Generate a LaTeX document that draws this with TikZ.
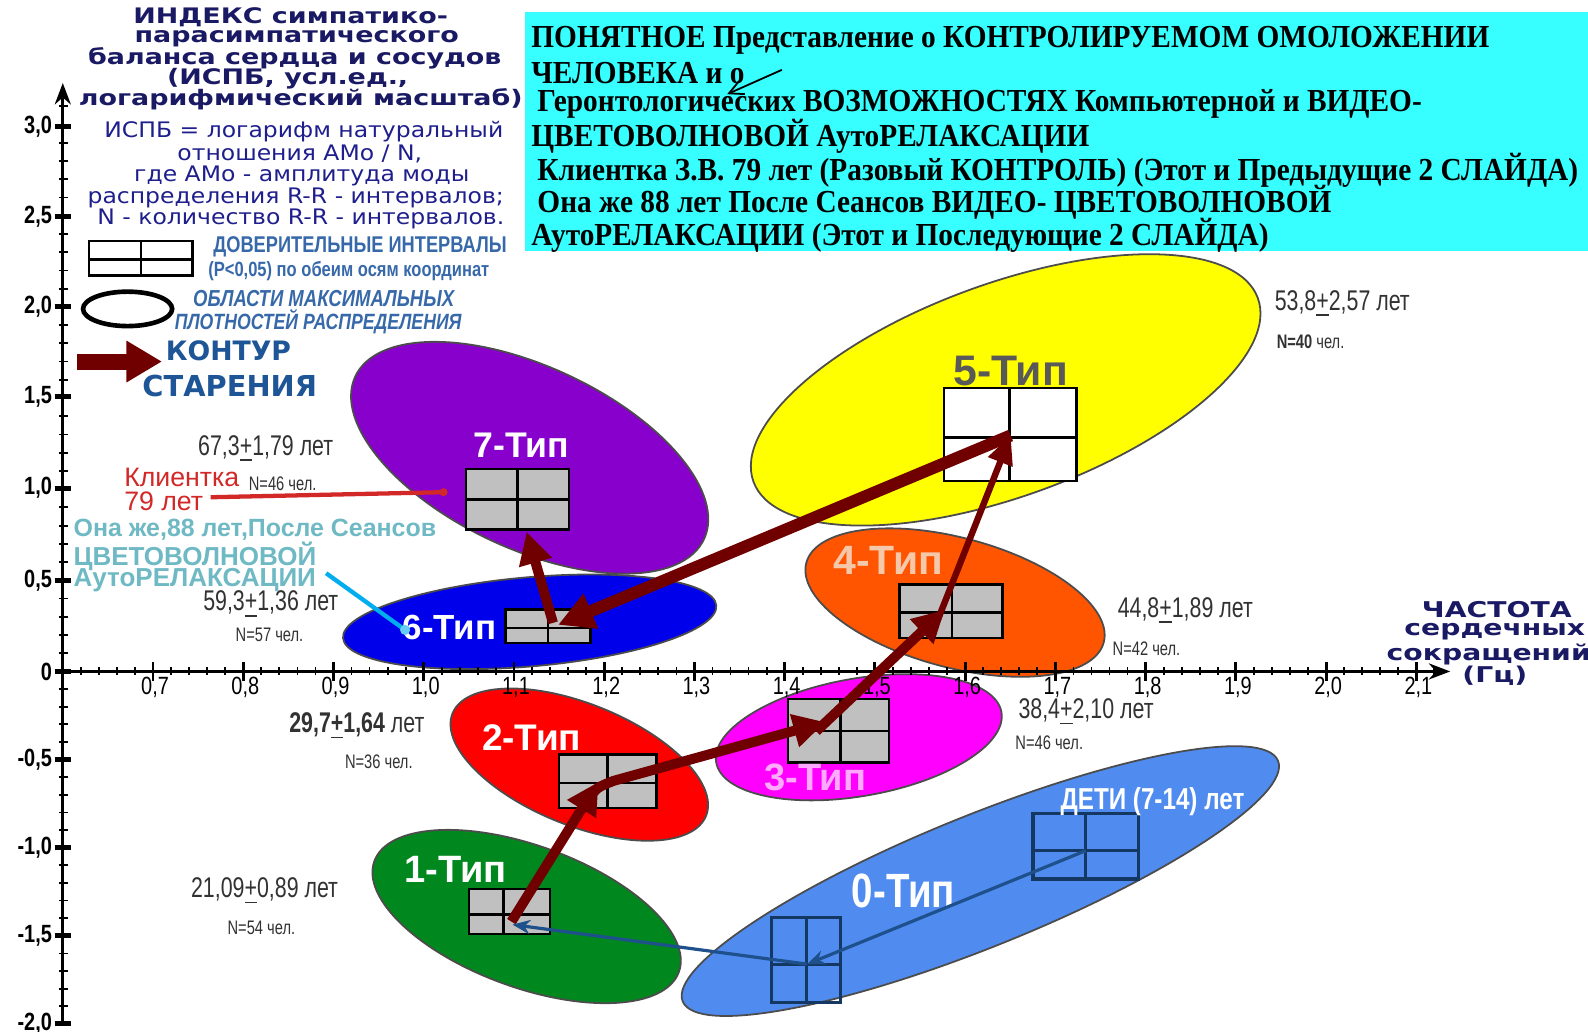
\documentclass[tikz,border=0pt]{standalone}
\usepackage{fontspec}
\usetikzlibrary{arrows.meta}
\setmainfont{Liberation Sans}
\newfontfamily\hdrfont[FakeStretch=1.26]{DejaVu Sans}
\newfontfamily\axfont[FakeStretch=1.3]{DejaVu Sans}
\newfontfamily\midfont[FakeStretch=1.1]{DejaVu Sans}
\newfontfamily\dvfont{DejaVu Sans}
\newfontfamily\narrowfont[FakeStretch=0.8]{Liberation Sans}
\newfontfamily\agefont[FakeStretch=0.75]{Liberation Sans}
\newfontfamily\serfont[FakeStretch=0.915]{Liberation Serif}
\newcommand\fs[1]{\fontsize{#1}{#1}\selectfont}
\definecolor{hdrnavy}{RGB}{25,25,100}
\definecolor{txtnavy}{RGB}{30,30,140}
\definecolor{arrowred}{RGB}{112,0,0}
\definecolor{ylw}{RGB}{255,255,0}
\definecolor{orng}{RGB}{255,85,0}
\definecolor{mgnt}{RGB}{255,0,255}
\definecolor{redf}{RGB}{255,0,0}
\definecolor{grn}{RGB}{0,135,30}
\definecolor{lblue}{RGB}{80,140,240}
\definecolor{dblue}{RGB}{0,0,235}
\definecolor{purp}{RGB}{136,0,204}
\definecolor{cyanbox}{RGB}{55,255,255}
\definecolor{boxgray}{RGB}{192,192,192}
\definecolor{agegray}{RGB}{50,50,50}
\definecolor{steel}{RGB}{55,105,170}
\definecolor{kontur}{RGB}{30,85,150}
\definecolor{clientred}{RGB}{210,40,40}
\definecolor{tealtxt}{RGB}{110,185,195}
\definecolor{lineblue}{RGB}{30,80,140}
\definecolor{peach}{RGB}{245,200,170}
\definecolor{pinkl}{RGB}{255,170,255}
\begin{document}
\begin{tikzpicture}[x=0.01cm,y=-0.01cm,
  every node/.style={inner sep=0pt},
  ell/.style={draw=black!70,line width=0.5pt},
  cib/.style={draw=black,line width=0.7pt},
  cibn/.style={draw=lineblue!70!black,line width=0.9pt},
  agearrow/.style={draw=arrowred,line width=2.8pt,-{Triangle[length=9pt,width=9pt]}},
  bluearrow/.style={draw=lineblue,line width=0.9pt,-{Stealth[length=5pt,width=4pt]}},
  axisline/.style={draw=black,line width=0.9pt,-{Stealth[length=6pt,width=4.5pt]}},
  minortick/.style={draw=black,line width=0.5pt},
  majortick/.style={draw=black,line width=1.4pt},
  hdr/.style={font=\hdrfont\bfseries\fs{6.0},text=hdrnavy},
  mid/.style={font=\midfont\fs{6},text=txtnavy},
  ser/.style={font=\serfont\bfseries\fs{9},text=black,anchor=west},
  age/.style={font=\agefont\fs{8},text=agegray,anchor=west},
  nlab/.style={font=\agefont\fs{5.5},text=agegray,anchor=west},
  tip/.style={font=\bfseries\fs{10}},
  ytl/.style={font=\narrowfont\bfseries\fs{7},anchor=east},
  xtl/.style={font=\narrowfont\fs{7},anchor=north}
]
\useasboundingbox (0,0) rectangle (1568,1019);
% ---------- cyan title box
\fill[cyanbox] (518,12) rectangle (1568,248);
\node[ser] (s1) at (524,40) {ПОНЯТНОЕ Представление о КОНТРОЛИРУЕМОМ ОМОЛОЖЕНИИ};
\node[ser] (s2) at (524,72) {ЧЕЛОВЕКА и о};
\node[ser] (s3) at (530,103) {Геронтологических ВОЗМОЖНОСТЯХ Компьютерной и ВИДЕО-};
\node[ser] (s4) at (524,135) {ЦВЕТОВОЛНОВОЙ АутоРЕЛАКСАЦИИ};
\node[ser] (s5) at (530,168) {Клиентка З.В. 79 лет (Разовый КОНТРОЛЬ) (Этот и Предыдущие 2 СЛАЙДА)};
\node[ser] (s6) at (530,200) {Она же 88 лет После Сеансов ВИДЕО- ЦВЕТОВОЛНОВОЙ};
\node[ser] (s7) at (524,232) {АутоРЕЛАКСАЦИИ (Этот и Последующие 2 СЛАЙДА)};
\coordinate (sa1) at (772,69);
\coordinate (sa2) at (718,93);
\draw[line width=0.5pt,-{Straight Barb[length=4pt,width=4pt]}] (sa1) -- (sa2);
% ---------- header text top left
\node[hdr] (h1) at (287,17) {ИНДЕКС симпатико-};
\node[hdr] (h2) at (293,38) {парасимпатического};
\node[hdr] (h3) at (291,58) {баланса сердца и сосудов};
\node[hdr] (h4) at (284,78) {(ИСПБ, усл.ед.,};
\node[hdr] (h5) at (297,98) {логарифмический масштаб)};
\node[mid] (m1) at (300,130) {ИСПБ = логарифм натуральный};
\node[mid] (m2) at (296,152) {отношения АМо / N,};
\node[mid] (m3) at (298,174) {где АМо - амплитуда моды};
\node[mid] (m4) at (292,195) {распределения R-R - интервалов;};
\node[mid] (m5) at (297,216) {N - количество R-R - интервалов.};
% ---------- legend
\draw[cib] (88,238) rectangle (190,272);
\draw[cib] (139,238) -- (139,272);
\draw[cib] (88,256) -- (190,256);
\node[font=\narrowfont\bfseries\fs{6.4},text=steel,anchor=west] (l1) at (210,244) {ДОВЕРИТЕЛЬНЫЕ ИНТЕРВАЛЫ};
\node[font=\narrowfont\bfseries\fs{5.8},text=steel,anchor=west] (l2) at (205,268) {(P<0,05) по обеим осям координат};
\draw[black,line width=1.3pt] (126,305) ellipse [x radius=44,y radius=17];
\node[font=\narrowfont\bfseries\itshape\fs{6.5},text=steel,anchor=west] (l3) at (190,295) {ОБЛАСТИ МАКСИМАЛЬНЫХ};
\node[font=\narrowfont\bfseries\itshape\fs{6.2},text=steel,anchor=west] (l4) at (172,318) {ПЛОТНОСТЕЙ РАСПРЕДЕЛЕНИЯ};
\coordinate (la1) at (76,357);
\coordinate (la2) at (160,357);
\draw[draw=arrowred,line width=4.5pt,-{Triangle[length=10pt,width=11pt]}] (la1) -- (la2);
\node[font=\dvfont\bfseries\fs{7.5},text=kontur,anchor=west] (k1) at (163,346) {КОНТУР};
\node[font=\dvfont\bfseries\fs{8.1},text=kontur,anchor=west] (k2) at (140,381) {СТАРЕНИЯ};
% ---------- ellipses
\path[ell,fill=ylw,rotate around={20:(993,385)}] (993,385) ellipse [x radius=265,y radius=105];
\path[ell,fill=orng,rotate around={-15:(943,595)}] (943,595) ellipse [x radius=152,y radius=64];
\path[ell,fill=mgnt,rotate around={10:(848,728)}] (848,728) ellipse [x radius=143,y radius=58];
\path[ell,fill=redf,rotate around={-22:(572,755)}] (572,755) ellipse [x radius=135,y radius=60];
\path[ell,fill=lblue,rotate around={22:(968,870)}] (968,870) ellipse [x radius=317,y radius=65];
\path[ell,fill=grn,rotate around={-20:(520,905)}] (520,905) ellipse [x radius=160,y radius=70];
\path[ell,fill=purp,rotate around={-25:(523,452)}] (523,452) ellipse [x radius=190,y radius=90];
\path[ell,fill=dblue,rotate around={5:(523,614)}] (523,614) ellipse [x radius=185,y radius=44];
% ---------- axes
\coordinate (yb) at (62,1013);
\coordinate (yt) at (62,82);
\coordinate (xl) at (62,663);
\coordinate (xr) at (1432,663);
\draw[axisline] (yb) -- (yt);
\draw[axisline] (xl) -- (xr);
\foreach \i in {1,...,31} {\draw[minortick] (58,{663-\i*18}) -- (67,{663-\i*18});}
\foreach \i in {1,...,20} {\draw[minortick] (58,{663+\i*17.4}) -- (67,{663+\i*17.4});}
\foreach \y/\l [count=\k] in {125/{3,0},214/{2,5},303/{2,0},392/{1,5},482/{1,0},573/{0,5},663/{0},750/{-0,5},837/{-1,0},924/{-1,5},1011/{-2,0}}
  {\draw[majortick] (54,\y) -- (70,\y);
   \node[ytl] (yl\k) at (52,\y) {\l};}
\foreach \i in {1,...,76} {\draw[minortick] ({62+\i*17.82},659) -- ({62+\i*17.82},667);}
\foreach \v/\l in {1/{0,7},2/{0,8},3/{0,9},4/{1,0},5/{1,1},6/{1,2},7/{1,3},8/{1,4},9/{1,5},10/{1,6},11/{1,7},12/{1,8},13/{1,9},14/{2,0},15/{2,1}}
  {\draw[minortick,line width=0.8pt] ({62+\v*89.1},654) -- ({62+\v*89.1},672);
   \node[xtl] (xt\v) at ({64+\v*89.1},668) {\l};}
\node[font=\axfont\bfseries\fs{6.1},text=hdrnavy] (ax1) at (1478,602) {ЧАСТОТА};
\node[font=\axfont\bfseries\fs{6.1},text=hdrnavy] (ax2) at (1476,624) {сердечных};
\node[font=\axfont\bfseries\fs{6.1},text=hdrnavy] (ax3) at (1470,646) {сокращений};
\node[font=\axfont\bfseries\fs{6.1},text=hdrnavy] (ax4) at (1476,667) {(Гц)};
% ---------- confidence boxes
\draw[cib,fill=boxgray] (460,463) rectangle (562,523); \draw[cib] (511,463) -- (511,523); \draw[cib] (460,493) -- (562,493);
\draw[cib,fill=boxgray] (499,602) rectangle (583,635); \draw[cib] (541,602) -- (541,635); \draw[cib] (499,620) -- (583,620);
\draw[cib,fill=white] (932,383) rectangle (1063,475); \draw[cib] (997,383) -- (997,475); \draw[cib] (932,432) -- (1063,432);
\draw[cib,fill=boxgray] (888,577) rectangle (990,630); \draw[cib] (940,577) -- (940,630); \draw[cib] (888,605) -- (990,605);
\draw[cib,fill=boxgray] (778,690) rectangle (878,753); \draw[cib] (830,690) -- (830,753); \draw[cib] (778,722) -- (878,722);
\draw[cib,fill=boxgray] (552,745) rectangle (648,798); \draw[cib] (600,745) -- (600,798); \draw[cib] (552,773) -- (648,773);
\draw[cib,fill=boxgray] (463,878) rectangle (543,922); \draw[cib] (497,878) -- (497,922); \draw[cib] (463,903) -- (543,903);
\draw[cibn] (1020,803) rectangle (1124,868); \draw[cibn] (1072,803) -- (1072,868); \draw[cibn] (1020,840) -- (1124,840);
\draw[cibn] (762,906) rectangle (830,990); \draw[cibn] (796,906) -- (796,990); \draw[cibn] (762,952) -- (830,952);
% ---------- type labels
\node[tip,text=white] (t7) at (515,440) {7-Тип};
\node[font=\bfseries\fs{9.8},text=white] (t6) at (444,620) {6-Тип};
\node[font=\bfseries\fs{12},text=black!65] (t5) at (998,366) {5-Тип};
\node[font=\bfseries\fs{11.5},text=peach] (t4) at (877,553) {4-Тип};
\node[font=\bfseries\fs{10.7},text=pinkl] (t3) at (805,768) {3-Тип};
\node[font=\bfseries\fs{10.4},text=white] (t2) at (525,728) {2-Тип};
\node[font=\bfseries\fs{10.7},text=white] (t1) at (450,858) {1-Тип};
\node[font=\narrowfont\bfseries\fs{13.5},text=white] (t0) at (892,880) {0-Тип};
\node[font=\narrowfont\bfseries\fs{8.5},text=white] (tch) at (1138,792) {ДЕТИ (7-14) лет};
% ---------- ages
\node[age] (g5) at (1258,300) {53,8\underline{+}2,57 лет};
\node[nlab] (n5) at (1260,337) {\textbf{N=40} чел.};
\node[age] (g7) at (195,443) {67,3\underline{+}1,79 лет};
\node[nlab] (n7) at (245,478) {N=46 чел.};
\node[age] (g6) at (200,597) {59,3\underline{+}1,36 лет};
\node[nlab] (n6) at (232,627) {N=57 чел.};
\node[age] (g4) at (1103,603) {44,8\underline{+}1,89 лет};
\node[nlab] (n4) at (1098,641) {N=42 чел.};
\node[age] (g3) at (1005,703) {38,4\underline{+}2,10 лет};
\node[nlab] (n3) at (1002,733) {N=46 чел.};
\node[age] (g2) at (285,717) {\textbf{29,7\underline{+}1,64} лет};
\node[nlab] (n2) at (340,752) {N=36 чел.};
\node[age] (g1) at (188,880) {21,09\underline{+}0,89 лет};
\node[nlab] (n1) at (224,916) {N=54 чел.};
% ---------- client labels
\node[font=\fs{7.5},text=clientred,anchor=west] (cl1) at (122,471) {Клиентка};
\node[font=\fs{7.5},text=clientred,anchor=west] (cl2) at (122,495) {79 лет};
\coordinate (kl) at (208,491);
\coordinate (kd) at (438,486);
\draw[clientred,line width=1.2pt] (kl) -- (kd);
\fill[clientred] (kd) circle (4);
\node[font=\bfseries\fs{7},text=tealtxt,anchor=west] (o1) at (72,523) {Она же,88 лет,После Сеансов};
\node[font=\bfseries\fs{7.3},text=tealtxt,anchor=west] (o2) at (72,549) {ЦВЕТОВОЛНОВОЙ};
\node[font=\bfseries\fs{7.3},text=tealtxt,anchor=west] (o3) at (72,573) {АутоРЕЛАКСАЦИИ};
\coordinate (ol) at (322,566);
\coordinate (od) at (400,622);
\draw[cyan,line width=1.2pt] (ol) -- (od);
\fill[cyan!60!white] (od) circle (5);
% ---------- ageing contour arrows
\coordinate (a1) at (505,910);
\coordinate (a2) at (591,772);
\coordinate (a2s) at (577,796);
\coordinate (a2m) at (606,771);
\coordinate (a3) at (815,713);
\coordinate (a3s) at (806,722);
\coordinate (a4) at (933,602);
\coordinate (a4s) at (926,612);
\coordinate (a5) at (998,430);
\coordinate (a6) at (551,617);
\coordinate (a6s) at (546,615);
\coordinate (a7) at (520,525);
\draw[agearrow] (a1) -- (a2);
\draw[agearrow,line cap=round] (a2s) .. controls (588,778) .. (a2m) -- (a3);
\draw[agearrow] (a3s) -- (a4);
\draw[agearrow,line width=1.8pt,-{Triangle[length=8pt,width=7pt]}] (a4s) -- (a5);
\draw[agearrow,line width=3.4pt,-{Triangle[length=10pt,width=10pt]}] (a5) -- (a6);
\draw[agearrow] (a6s) -- (a7);
% ---------- children arrows
\coordinate (c0a) at (1072,840);
\coordinate (c0b) at (797,952);
\coordinate (c1) at (506,913);
\draw[bluearrow] (c0a) -- (c0b);
\draw[bluearrow] (c0b) -- (c1);
\end{tikzpicture}
\end{document}
